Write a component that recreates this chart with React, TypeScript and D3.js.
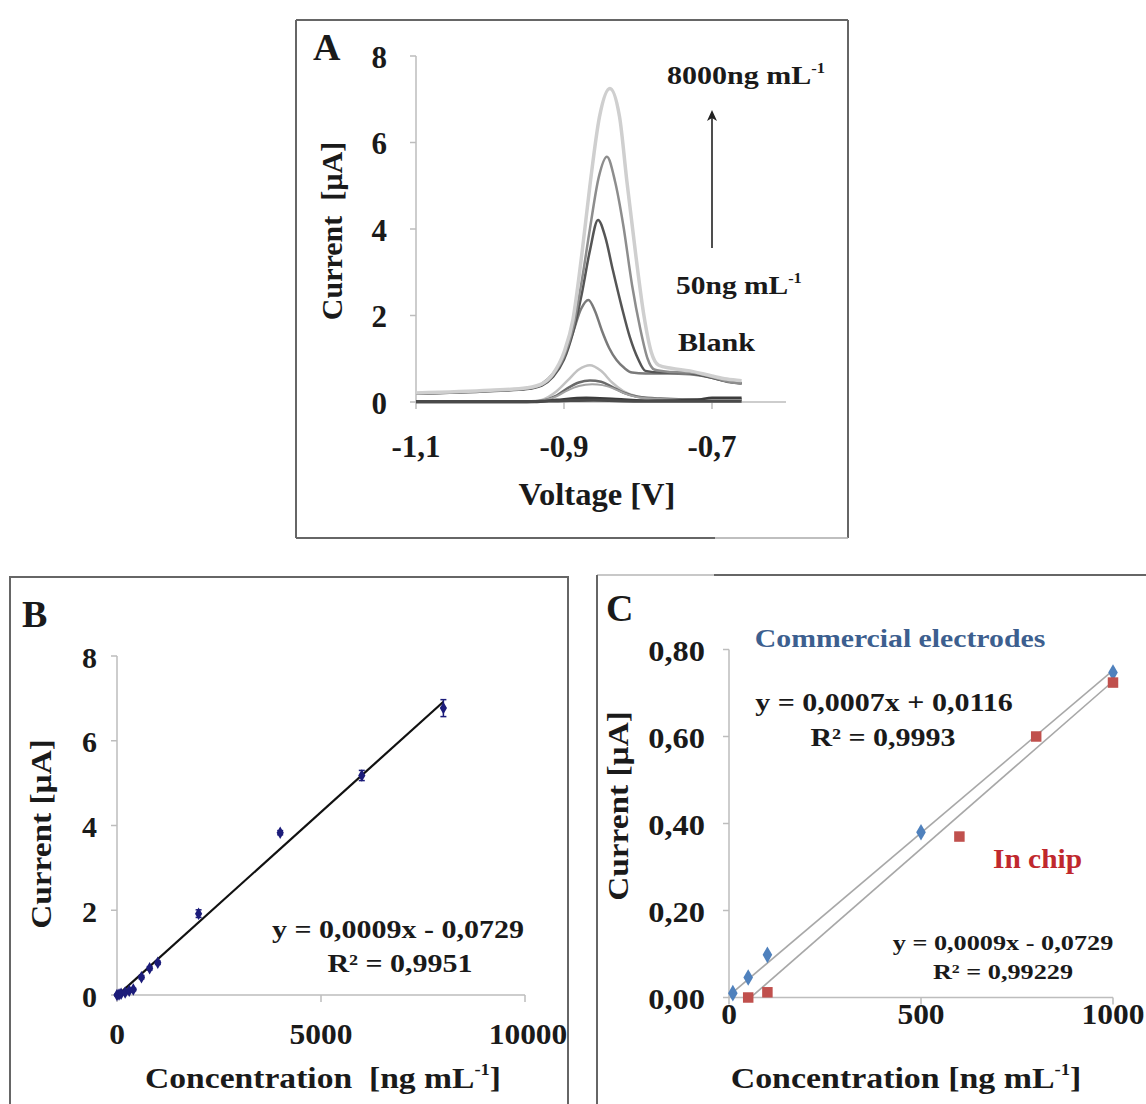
import React from "react";
import * as d3 from "d3";

// ---------- Panel A: voltammograms (Voltage [V], Current [µA]) ----------
const voltageTicks = [-1.1, -0.9, -0.7];
const voltageTickLabels = ["-1,1", "-0,9", "-0,7"];
const currentTicksA = [0, 2, 4, 6, 8];

const curveA1: [number, number][] = [
  [-1.1, 0.21], [-1.0, 0.27], [-0.95, 0.33], [-0.93, 0.42], [-0.915, 0.65], [-0.9, 1.15],
  [-0.888, 1.9], [-0.876, 3.4], [-0.865, 5.0], [-0.852, 6.6], [-0.838, 7.25], [-0.825, 6.6],
  [-0.815, 5.1], [-0.803, 3.4], [-0.792, 2.0], [-0.782, 1.15], [-0.772, 0.85], [-0.755, 0.78],
  [-0.73, 0.72], [-0.7, 0.6], [-0.68, 0.53], [-0.66, 0.49],
];
const curveA2: [number, number][] = [
  [-1.1, 0.2], [-1.0, 0.26], [-0.95, 0.31], [-0.93, 0.4], [-0.915, 0.62], [-0.9, 1.05],
  [-0.888, 1.7], [-0.876, 2.8], [-0.865, 4.0], [-0.853, 5.2], [-0.842, 5.67], [-0.831, 5.1],
  [-0.82, 4.1], [-0.808, 2.7], [-0.797, 1.7], [-0.787, 1.0], [-0.778, 0.75], [-0.76, 0.7],
  [-0.73, 0.68], [-0.7, 0.58], [-0.68, 0.48], [-0.66, 0.42],
];
const curveA3: [number, number][] = [
  [-1.1, 0.19], [-1.0, 0.25], [-0.95, 0.3], [-0.93, 0.38], [-0.915, 0.58], [-0.9, 0.98],
  [-0.888, 1.6], [-0.876, 2.5], [-0.865, 3.5], [-0.854, 4.21], [-0.844, 3.8], [-0.834, 3.05],
  [-0.822, 2.2], [-0.811, 1.5], [-0.8, 1.0], [-0.79, 0.72], [-0.77, 0.68], [-0.74, 0.68],
  [-0.71, 0.6], [-0.68, 0.48], [-0.66, 0.43],
];
const curveA4: [number, number][] = [
  [-1.1, 0.2], [-1.0, 0.26], [-0.95, 0.31], [-0.93, 0.42], [-0.915, 0.65], [-0.9, 1.05],
  [-0.888, 1.6], [-0.877, 2.15], [-0.867, 2.36], [-0.858, 2.1], [-0.849, 1.66], [-0.839, 1.25],
  [-0.829, 0.97], [-0.818, 0.78], [-0.808, 0.68], [-0.79, 0.66], [-0.76, 0.66], [-0.73, 0.64],
  [-0.7, 0.56], [-0.68, 0.47], [-0.66, 0.44],
];
const curveA5: [number, number][] = [
  [-1.1, 0.0], [-0.95, 0.0], [-0.93, 0.05], [-0.91, 0.25], [-0.895, 0.5], [-0.88, 0.75],
  [-0.865, 0.85], [-0.85, 0.72], [-0.835, 0.45], [-0.82, 0.25], [-0.8, 0.12], [-0.77, 0.07],
  [-0.72, 0.06], [-0.66, 0.05],
];
const curveA6: [number, number][] = [
  [-1.1, 0.0], [-0.95, 0.0], [-0.93, 0.03], [-0.91, 0.15], [-0.895, 0.32], [-0.88, 0.45],
  [-0.865, 0.5], [-0.85, 0.47], [-0.835, 0.35], [-0.82, 0.22], [-0.8, 0.12], [-0.77, 0.08],
  [-0.72, 0.06], [-0.66, 0.06],
];
const curveA7: [number, number][] = [
  [-1.1, 0.0], [-0.95, 0.0], [-0.93, 0.03], [-0.91, 0.13], [-0.895, 0.27], [-0.88, 0.37],
  [-0.862, 0.41], [-0.848, 0.39], [-0.833, 0.31], [-0.818, 0.2], [-0.8, 0.11], [-0.77, 0.07],
  [-0.72, 0.05], [-0.66, 0.05],
];
const curveA8: [number, number][] = [
  [-1.1, 0.0], [-0.94, 0.0], [-0.91, 0.05], [-0.87, 0.1], [-0.83, 0.07], [-0.78, 0.03],
  [-0.72, 0.05], [-0.7, 0.1], [-0.66, 0.1],
];
const curveBlank: [number, number][] = [
  [-1.1, 0.01], [-0.95, 0.01], [-0.9, 0.03], [-0.86, 0.04], [-0.8, 0.02], [-0.7, 0.02], [-0.66, 0.02],
];
const curvesA = [curveA5, curveA6, curveA7, curveA8, curveBlank, curveA4, curveA3, curveA2, curveA1];
const curveColorsA = ["#c2c2c2", "#6a6a6a", "#a3a3a3", "#3c3c3c", "#4a4a4a", "#7a7a7a", "#555555", "#8d8d8d", "#cfcfcf"];
const curveWidthsA = [2.5, 2.5, 2, 2.5, 3, 2.5, 2.5, 2.5, 3.5];

// ---------- Panel B: calibration ----------
const concB = [0, 50, 100, 200, 300, 400, 600, 800, 1000, 2000, 4000, 6000, 8000];
const currB = [0, 0.01, 0.03, 0.06, 0.1, 0.13, 0.42, 0.63, 0.76, 1.92, 3.83, 5.18, 6.77];
const errB = [0.02, 0.02, 0.02, 0.03, 0.03, 0.03, 0.04, 0.04, 0.04, 0.09, 0.05, 0.12, 0.2];
const trendBx = [0, 8000];
const trendBy = [-0.02, 6.92];
const xTicksB = [0, 5000, 10000];
const yTicksB = [0, 2, 4, 6, 8];

// ---------- Panel C: commercial vs in chip ----------
const concCommercial = [10, 50, 100, 500, 1000];
const currCommercial = [0.01, 0.046, 0.098, 0.38, 0.747];
const concChip = [50, 100, 600, 800, 1000];
const currChip = [0.0, 0.012, 0.37, 0.6, 0.724];
const trendCommercialX = [10, 1000];
const trendCommercialY = [0.012, 0.752];
const trendChipX = [50, 1000];
const trendChipY = [-0.005, 0.727];
const xTicksC = [0, 500, 1000];
const yTicksC = [0, 0.2, 0.4, 0.6, 0.8];
const yTickLabelsC = ["0,00", "0,20", "0,40", "0,60", "0,80"];

const FONT = "'Liberation Serif', 'Times New Roman', serif";
const AXIS = "#bdbdbd";
const INK = "#1a1a1a";
const NB = "\u00A0";

type TProps = {
  x: number;
  y: number;
  size: number;
  sx?: number;
  anchor?: "start" | "middle" | "end";
  rotate?: boolean;
  fill?: string;
  children: React.ReactNode;
};

function T({ x, y, size, sx = 1, anchor = "start", rotate = false, fill = INK, children }: TProps) {
  return (
    <text
      transform={`translate(${x},${y})${rotate ? " rotate(-90)" : ""} scale(${sx},1)`}
      textAnchor={anchor}
      dy="0.35em"
      fontSize={size}
      fontFamily={FONT}
      fontWeight={700}
      fill={fill}
    >
      {children}
    </text>
  );
}

function Sup({ size, children }: { size: number; children: React.ReactNode }) {
  return (
    <tspan dy={-size * 0.42} fontSize={size * 0.55}>
      {children}
    </tspan>
  );
}

export default function App() {
  // Panel A scales
  const xA = d3.scaleLinear().domain([-1.1, -0.6]).range([416, 786]);
  const yA = d3.scaleLinear().domain([0, 8]).range([402, 56]);
  const lineA = d3
    .line<[number, number]>()
    .x((d) => xA(d[0]))
    .y((d) => yA(d[1]))
    .curve(d3.curveMonotoneX);

  // Panel B scales
  const xB = d3.scaleLinear().domain([0, 10000]).range([117, 525]);
  const yB = d3.scaleLinear().domain([0, 8]).range([995, 656]);
  const diamondB = d3.symbol().type(d3.symbolDiamond).size(45)() as string;

  // Panel C scales
  const xC = d3.scaleLinear().domain([0, 1000]).range([729, 1113]);
  const yC = d3.scaleLinear().domain([0, 0.8]).range([997.5, 649.5]);
  const diamondC = d3.symbol().type(d3.symbolDiamond).size(80)() as string;
  const squareC = d3.symbol().type(d3.symbolSquare).size(110)() as string;

  return (
    <svg
      width={1146}
      height={1104}
      style={{ position: "absolute", left: 0, top: 0, background: "#fff" }}
    >
      <rect x={0} y={0} width={1146} height={1104} fill="#fff" />

      {/* ===== Panel A ===== */}
      <line x1={296} y1={20} x2={848} y2={20} stroke="#666" strokeWidth={2} />
      <line x1={296} y1={20} x2={296} y2={538} stroke="#666" strokeWidth={2} />
      <line x1={848} y1={20} x2={848} y2={538} stroke="#666" strokeWidth={2} />
      <line x1={296} y1={538} x2={715} y2={538} stroke="#666" strokeWidth={2} />
      <line x1={715} y1={538} x2={848} y2={538} stroke="#aaa" strokeWidth={1.5} />
      <T x={313} y={47} size={38}>A</T>
      <line x1={xA(-1.1)} x2={xA(-1.1)} y1={yA(0)} y2={yA(8)} stroke={AXIS} strokeWidth={1.5} />
      <line x1={xA(-1.1)} x2={xA(-0.6)} y1={yA(0)} y2={yA(0)} stroke={AXIS} strokeWidth={1.5} />
      {currentTicksA.map((t) => (
        <g key={"ya" + t}>
          <line x1={xA(-1.1) - 6} x2={xA(-1.1)} y1={yA(t)} y2={yA(t)} stroke={AXIS} strokeWidth={1.5} />
          <T x={387} y={yA(t) + 1} size={31} anchor="end">{t}</T>
        </g>
      ))}
      {voltageTicks.map((t, i) => (
        <g key={"xa" + t}>
          <line x1={xA(t)} x2={xA(t)} y1={yA(0)} y2={yA(0) + 7} stroke={AXIS} strokeWidth={1.5} />
          <T x={xA(t)} y={446} size={31} anchor="middle">{voltageTickLabels[i]}</T>
        </g>
      ))}
      {curvesA.map((c, i) => (
        <path
          key={"ca" + i}
          d={lineA(c) as string}
          fill="none"
          stroke={curveColorsA[i]}
          strokeWidth={curveWidthsA[i]}
          strokeLinejoin="round"
        />
      ))}
      <T x={597} y={494} size={31} sx={1.05} anchor="middle">Voltage [V]</T>
      <T x={331} y={231} size={30} rotate anchor="middle">{`Current${NB} [µA]`}</T>
      <T x={667} y={75} size={25} sx={1.2}>
        8000ng mL<Sup size={25}>-1</Sup>
      </T>
      <line x1={712} x2={712} y1={248} y2={116} stroke="#222" strokeWidth={1.6} />
      <path d="M712,110 L707,121 L712,118 L717,121 Z" fill="#222" />
      <T x={676} y={285} size={25} sx={1.18}>
        50ng mL<Sup size={25}>-1</Sup>
      </T>
      <T x={678} y={342} size={26} sx={1.16}>Blank</T>

      {/* ===== Panel B ===== */}
      <rect x={10} y={577} width={558} height={540} fill="none" stroke="#666" strokeWidth={2} />
      <T x={22} y={614} size={38}>B</T>
      <line x1={xB(0)} x2={xB(0)} y1={yB(0)} y2={yB(8)} stroke={AXIS} strokeWidth={1.5} />
      <line x1={xB(0)} x2={xB(10000)} y1={yB(0)} y2={yB(0)} stroke={AXIS} strokeWidth={1.5} />
      {yTicksB.map((t) => (
        <g key={"yb" + t}>
          <line x1={xB(0) - 6} x2={xB(0)} y1={yB(t)} y2={yB(t)} stroke={AXIS} strokeWidth={1.5} />
          <T x={97} y={yB(t) + 1} size={30} anchor="end">{t}</T>
        </g>
      ))}
      {xTicksB.map((t) => (
        <g key={"xb" + t}>
          <line x1={xB(t)} x2={xB(t)} y1={yB(0)} y2={yB(0) + 7} stroke={AXIS} strokeWidth={1.5} />
          <T x={xB(t) + (t === 10000 ? 3 : 0)} y={1033} size={30} sx={1.05} anchor="middle">{t}</T>
        </g>
      ))}
      <line
        x1={xB(trendBx[0])}
        y1={yB(trendBy[0])}
        x2={xB(trendBx[1])}
        y2={yB(trendBy[1])}
        stroke="#111"
        strokeWidth={2.2}
      />
      {concB.map((c, i) => (
        <g key={"pb" + i}>
          <line x1={xB(c)} x2={xB(c)} y1={yB(currB[i] - errB[i])} y2={yB(currB[i] + errB[i])} stroke="#1c1c7a" strokeWidth={1.5} />
          <line x1={xB(c) - 3} x2={xB(c) + 3} y1={yB(currB[i] - errB[i])} y2={yB(currB[i] - errB[i])} stroke="#1c1c7a" strokeWidth={1.5} />
          <line x1={xB(c) - 3} x2={xB(c) + 3} y1={yB(currB[i] + errB[i])} y2={yB(currB[i] + errB[i])} stroke="#1c1c7a" strokeWidth={1.5} />
          <path d={diamondB} transform={`translate(${xB(c)},${yB(currB[i])})`} fill="#1c1c7a" />
        </g>
      ))}
      <T x={398} y={929} size={25} sx={1.2} anchor="middle">y = 0,0009x - 0,0729</T>
      <T x={400} y={963} size={25} sx={1.2} anchor="middle">R² = 0,9951</T>
      <T x={40} y={834} size={30} sx={1.11} rotate anchor="middle">Current [µA]</T>
      <T x={323} y={1077} size={30} sx={1.12} anchor="middle">
        {`Concentration${NB} [ng mL`}<Sup size={30}>-1</Sup>
        <tspan dy={30 * 0.42}>]</tspan>
      </T>

      {/* ===== Panel C ===== */}
      <line x1={597} y1={575} x2={714} y2={575} stroke="#c8c8c8" strokeWidth={2} />
      <line x1={714} y1={575} x2={1146} y2={575} stroke="#666" strokeWidth={2} />
      <line x1={597} y1={575} x2={597} y2={1104} stroke="#666" strokeWidth={2} />
      <T x={606} y={608} size={38}>C</T>
      <line x1={xC(0)} x2={xC(0)} y1={yC(0)} y2={yC(0.8)} stroke={AXIS} strokeWidth={1.5} />
      <line x1={xC(0)} x2={xC(1000)} y1={yC(0)} y2={yC(0)} stroke={AXIS} strokeWidth={1.5} />
      {yTicksC.map((t, i) => (
        <g key={"yc" + t}>
          <line x1={xC(0) - 6} x2={xC(0)} y1={yC(t)} y2={yC(t)} stroke={AXIS} strokeWidth={1.5} />
          <T x={705} y={yC(t) + 1} size={30} sx={1.08} anchor="end">{yTickLabelsC[i]}</T>
        </g>
      ))}
      {xTicksC.map((t) => (
        <g key={"xc" + t}>
          <line x1={xC(t)} x2={xC(t)} y1={yC(0)} y2={yC(0) + 7} stroke={AXIS} strokeWidth={1.5} />
          <T x={xC(t)} y={1013} size={30} sx={1.05} anchor="middle">{t}</T>
        </g>
      ))}
      <line
        x1={xC(trendCommercialX[0])}
        y1={yC(trendCommercialY[0])}
        x2={xC(trendCommercialX[1])}
        y2={yC(trendCommercialY[1])}
        stroke="#a8a8a8"
        strokeWidth={1.6}
      />
      <line
        x1={xC(trendChipX[0])}
        y1={yC(trendChipY[0])}
        x2={xC(trendChipX[1])}
        y2={yC(trendChipY[1])}
        stroke="#a8a8a8"
        strokeWidth={1.6}
      />
      {concCommercial.map((c, i) => (
        <path key={"pc" + i} d={diamondC} transform={`translate(${xC(c)},${yC(currCommercial[i])})`} fill="#4f81bd" />
      ))}
      {concChip.map((c, i) => (
        <path key={"pr" + i} d={squareC} transform={`translate(${xC(c)},${yC(currChip[i])})`} fill="#c0504d" />
      ))}
      <T x={900} y={638} size={25} sx={1.19} anchor="middle" fill="#3d5f8f">Commercial electrodes</T>
      <T x={884} y={702} size={25} sx={1.2} anchor="middle">y = 0,0007x + 0,0116</T>
      <T x={883} y={737} size={25} sx={1.2} anchor="middle">R² = 0,9993</T>
      <T x={993} y={858} size={28} sx={1.05} fill="#c0282d">In chip</T>
      <T x={1003} y={943} size={21} sx={1.25} anchor="middle">y = 0,0009x - 0,0729</T>
      <T x={1003} y={972} size={21} sx={1.25} anchor="middle">R² = 0,99229</T>
      <T x={617} y={806} size={30} sx={1.11} rotate anchor="middle">Current [µA]</T>
      <T x={906} y={1077} size={30} sx={1.13} anchor="middle">
        Concentration [ng mL<Sup size={30}>-1</Sup>
        <tspan dy={30 * 0.42}>]</tspan>
      </T>
    </svg>
  );
}
